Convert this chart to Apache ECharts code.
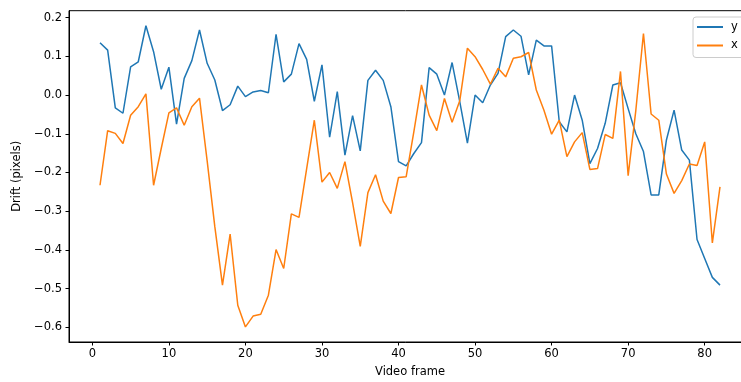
<!DOCTYPE html>
<html>
<head>
<meta charset="utf-8">
<script src="https://cdn.jsdelivr.net/npm/echarts@6/dist/echarts.min.js"></script>
<style>
  html, body { margin: 0; padding: 0; background: #fff; }
  #chart { width: 741px; height: 382px; }
</style>
</head>
<body>
<div id="chart"></div>
<script>
// Video frame index for each sample
const frames = [1,2,3,4,5,6,7,8,9,10,11,12,13,14,15,16,17,18,19,20,
  21,22,23,24,25,26,27,28,29,30,31,32,33,34,35,36,37,38,39,40,
  41,42,43,44,45,46,47,48,49,50,51,52,53,54,55,56,57,58,59,60,
  61,62,63,64,65,66,67,68,69,70,71,72,73,74,75,76,77,78,79,80,81,82];

// Drift along y (pixels)
const driftY = [0.135,0.116,-0.033,-0.047,0.073,0.086,0.179,0.112,0.015,0.072,
  -0.075,0.043,0.089,0.168,0.082,0.039,-0.040,-0.025,0.023,-0.004,
  0.008,0.012,0.006,0.157,0.034,0.054,0.133,0.092,-0.016,0.078,
  -0.109,0.009,-0.155,-0.053,-0.144,0.038,0.064,0.038,-0.030,-0.172,
  -0.183,-0.151,-0.123,0.071,0.054,0.000,0.084,-0.017,-0.124,0.000,
  -0.020,0.026,0.056,0.151,0.168,0.152,0.052,0.142,0.127,0.127,
  -0.069,-0.095,0.000,-0.065,-0.177,-0.138,-0.073,0.026,0.032,-0.035,
  -0.100,-0.146,-0.258,-0.258,-0.116,-0.039,-0.142,-0.168,-0.373,-0.422,
  -0.471,-0.491];

// Drift along x (pixels)
const driftX = [-0.233,-0.092,-0.099,-0.125,-0.052,-0.030,0.003,-0.233,-0.138,-0.046,
  -0.033,-0.078,-0.030,-0.008,-0.170,-0.340,-0.491,-0.359,-0.543,-0.599,
  -0.571,-0.566,-0.517,-0.399,-0.448,-0.307,-0.316,-0.190,-0.065,-0.225,
  -0.200,-0.241,-0.172,-0.278,-0.391,-0.252,-0.206,-0.274,-0.306,-0.213,
  -0.211,-0.095,0.026,-0.052,-0.092,-0.009,-0.070,-0.015,0.121,0.099,
  0.066,0.028,0.069,0.047,0.095,0.099,0.110,0.013,-0.039,-0.101,
  -0.065,-0.159,-0.121,-0.097,-0.192,-0.190,-0.102,-0.112,0.061,-0.208,
  -0.040,0.159,-0.049,-0.065,-0.204,-0.254,-0.221,-0.178,-0.182,-0.121,
  -0.382,-0.237];

const seriesNames = ['y', 'x'];
const xTicks = [0, 10, 20, 30, 40, 50, 60, 70, 80];
const yTicks = [-0.6, -0.5, -0.4, -0.3, -0.2, -0.1, 0.0, 0.1, 0.2];

// Axis limits with a 5% margin around the data, as pyplot does
function padded(lo, hi) {
  const m = (hi - lo) * 0.05;
  return [lo - m, hi + m];
}
const [xMin, xMax] = padded(Math.min(...frames), Math.max(...frames));
const allVals = driftY.concat(driftX);
const [yMin, yMax] = padded(Math.min(...allVals), Math.max(...allVals));

const minus = v => v.toFixed(1).replace('-', '\u2212');
const font = 'DejaVu Sans';
const fs = 11.5;

const chart = echarts.init(document.getElementById('chart'), null, { renderer: 'canvas' });
chart.setOption({
  animation: false,
  backgroundColor: '#fff',
  textStyle: { fontFamily: font },
  grid: {
    left: 69, right: -10, top: 10.7, bottom: 40,
    outerBoundsMode: 'none', containLabel: false,
    show: true, borderColor: '#000', borderWidth: 1, backgroundColor: 'transparent'
  },
  legend: {
    orient: 'vertical',
    left: 693, top: 17,
    padding: [4, 30, 6, 4],
    itemGap: 6.5,
    itemWidth: 26, itemHeight: 2,
    icon: 'rect',
    backgroundColor: 'rgba(255,255,255,0.8)',
    borderColor: '#cccccc', borderWidth: 1, borderRadius: 3,
    textStyle: { fontFamily: font, fontSize: fs, color: '#000', padding: [0, 0, 0, 3] },
    data: seriesNames
  },
  xAxis: {
    type: 'value', min: xMin, max: xMax,
    name: 'Video frame', nameLocation: 'middle', nameGap: 24,
    nameTextStyle: { fontFamily: font, fontSize: fs, color: '#000' },
    axisLine: { show: true, onZero: false, lineStyle: { color: '#000', width: 1 } },
    axisTick: { show: true, customValues: xTicks, length: 3.5, lineStyle: { color: '#000', width: 1 } },
    axisLabel: { customValues: xTicks, margin: 6, fontFamily: font, fontSize: fs, color: '#000' },
    splitLine: { show: false }
  },
  yAxis: {
    type: 'value', min: yMin, max: yMax,
    name: 'Drift (pixels)', nameLocation: 'middle', nameGap: 45,
    nameTextStyle: { fontFamily: font, fontSize: fs, color: '#000' },
    axisLine: { show: true, onZero: false, lineStyle: { color: '#000', width: 1 } },
    axisTick: { show: true, customValues: yTicks, length: 3.5, lineStyle: { color: '#000', width: 1 } },
    axisLabel: { customValues: yTicks, margin: 7, fontFamily: font, fontSize: fs, color: '#000', formatter: minus },
    splitLine: { show: false }
  },
  series: [
    {
      name: seriesNames[0], type: 'line', showSymbol: false, symbol: 'none',
      color: '#1f77b4', lineStyle: { color: '#1f77b4', width: 1.5 },
      data: frames.map((f, i) => [f, driftY[i]]), z: 2
    },
    {
      name: seriesNames[1], type: 'line', showSymbol: false, symbol: 'none',
      color: '#ff7f0e', lineStyle: { color: '#ff7f0e', width: 1.5 },
      data: frames.map((f, i) => [f, driftX[i]]), z: 3
    }
  ]
});
</script>
</body>
</html>
